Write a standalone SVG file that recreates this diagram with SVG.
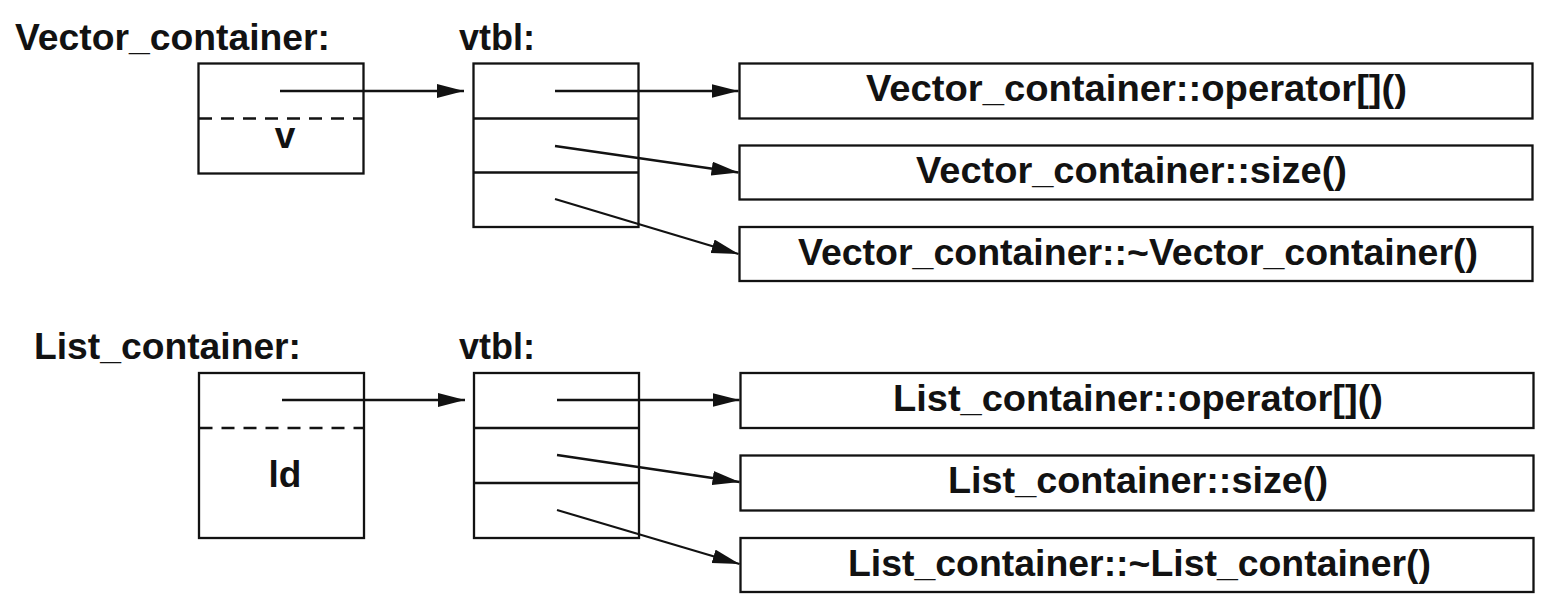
<svg xmlns="http://www.w3.org/2000/svg" width="1553" height="608" viewBox="0 0 1553 608">
<style>
  .box{fill:#fff;stroke:#121212;stroke-width:2.3}
  .div{stroke:#121212;stroke-width:2.3;fill:none}
  .dash{stroke:#121212;stroke-width:2.3;stroke-dasharray:13 9;fill:none}
  .t{font-family:"Liberation Sans",Arial,Helvetica,sans-serif;font-weight:bold;font-size:37px;fill:#121212}
  .c{stroke:#121212;stroke-width:2.3;fill:none;marker-end:url(#ah)}
</style>
<defs>
  <marker id="ah" markerUnits="userSpaceOnUse" markerWidth="28" markerHeight="15" refX="27" refY="7" orient="auto">
    <path d="M0,0 L27,7 L0,14 Z" fill="#121212"/>
  </marker>
</defs>
<rect width="1553" height="608" fill="#fff"/>

<!-- Top section -->
<g id="vector_label">
  <text class="t" x="15" y="50" textLength="315" lengthAdjust="spacingAndGlyphs">Vector_container:</text>
</g>
<g id="vector_vtbl_label">
  <text class="t" x="459" y="50" textLength="76" lengthAdjust="spacingAndGlyphs">vtbl:</text>
</g>
<g id="vector_object">
  <rect class="box" x="198.5" y="63.5" width="165" height="110"/>
  <line class="dash" x1="199" y1="118.5" x2="363" y2="118.5"/>
  <text class="t" x="285" y="148" text-anchor="middle">v</text>
</g>
<g id="vector_vtbl">
  <rect class="box" x="473.5" y="63.5" width="165" height="163.5"/>
  <line class="div" x1="473.5" y1="118.5" x2="638.5" y2="118.5"/>
  <line class="div" x1="473.5" y1="172.5" x2="638.5" y2="172.5"/>
</g>
<g id="vector_op">
  <rect class="box" x="739.5" y="63.5" width="793" height="55"/>
  <text class="t" x="866" y="101" textLength="541" lengthAdjust="spacingAndGlyphs">Vector_container::operator[]()</text>
</g>
<g id="vector_size">
  <rect class="box" x="739.5" y="145.5" width="793" height="54"/>
  <text class="t" x="916" y="183" textLength="431" lengthAdjust="spacingAndGlyphs">Vector_container::size()</text>
</g>
<g id="vector_dtor">
  <rect class="box" x="739.5" y="227" width="793" height="54"/>
  <text class="t" x="798" y="264.5" textLength="680" lengthAdjust="spacingAndGlyphs">Vector_container::~Vector_container()</text>
</g>

<!-- Bottom section -->
<g id="list_label">
  <text class="t" x="34" y="359" textLength="267" lengthAdjust="spacingAndGlyphs">List_container:</text>
</g>
<g id="list_vtbl_label">
  <text class="t" x="459" y="359" textLength="76" lengthAdjust="spacingAndGlyphs">vtbl:</text>
</g>
<g id="list_object">
  <rect class="box" x="199" y="373" width="165" height="165"/>
  <line class="dash" x1="199.5" y1="428" x2="363.5" y2="428"/>
  <text class="t" x="285" y="487" text-anchor="middle">ld</text>
</g>
<g id="list_vtbl">
  <rect class="box" x="474" y="373" width="165" height="165"/>
  <line class="div" x1="474" y1="428" x2="639" y2="428"/>
  <line class="div" x1="474" y1="483" x2="639" y2="483"/>
</g>
<g id="list_op">
  <rect class="box" x="740.5" y="373" width="793" height="55"/>
  <text class="t" x="893" y="410.5" textLength="490" lengthAdjust="spacingAndGlyphs">List_container::operator[]()</text>
</g>
<g id="list_size">
  <rect class="box" x="740.5" y="455.5" width="793" height="55"/>
  <text class="t" x="948" y="493" textLength="380" lengthAdjust="spacingAndGlyphs">List_container::size()</text>
</g>
<g id="list_dtor">
  <rect class="box" x="740.5" y="538" width="793" height="54"/>
  <text class="t" x="848" y="575.5" textLength="583" lengthAdjust="spacingAndGlyphs">List_container::~List_container()</text>
</g>

<g id="connectors">
  <line class="c" x1="280" y1="91" x2="464" y2="91"/>
  <line class="c" x1="555" y1="91" x2="738.5" y2="91"/>
  <line class="c" x1="555" y1="146" x2="738.5" y2="172.5"/>
  <line class="c" x1="555" y1="199" x2="738.5" y2="254"/>
  <line class="c" x1="282" y1="400" x2="465" y2="400"/>
  <line class="c" x1="557" y1="400" x2="739.5" y2="400"/>
  <line class="c" x1="557" y1="455" x2="739.5" y2="482"/>
  <line class="c" x1="557" y1="510" x2="739.5" y2="564"/>
</g>
</svg>
